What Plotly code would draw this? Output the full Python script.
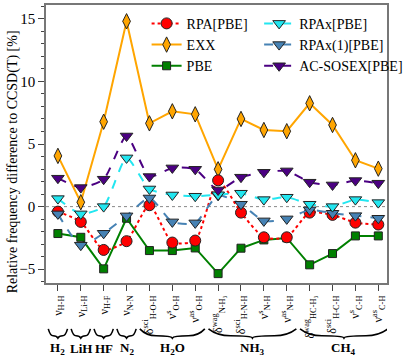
import plotly.graph_objects as go

labels = ["ν<sub>H-H</sub>", "ν<sub>Li-H</sub>", "ν<sub>H-F</sub>", "ν<sub>N-N</sub>",
          "δ<sup>sci</sup><sub>H-O-H</sub>", "ν<sup>s</sup><sub>O-H</sub>", "ν<sup>as</sup><sub>O-H</sub>",
          "δ<sup>wag</sup><sub>N-H₃</sub>", "δ<sup>sci</sup><sub>H-N-H</sub>", "ν<sup>s</sup><sub>N-H</sub>",
          "ν<sup>as</sup><sub>N-H</sub>", "δ<sup>wag</sup><sub>HC-H₃</sub>", "δ<sup>sci</sup><sub>H-C-H</sub>",
          "ν<sup>s</sup><sub>C-H</sub>", "ν<sup>as</sup><sub>C-H</sub>"]
pos = list(range(len(labels)))

rpa = [-0.4, -1.22, -3.46, -2.76, 0.11, -2.87, -2.71, 2.1, -0.48, -2.45, -2.45, -0.48, -0.66, -1.28, -1.43]
exx = [4.05, 0.35, 6.78, 14.8, 6.65, 7.61, 7.37, 2.98, 7.0, 6.12, 6.02, 8.25, 6.52, 3.7, 3.03]
pbe = [-2.15, -2.45, -4.97, -0.93, -3.51, -3.51, -3.3, -5.35, -3.32, -2.66, -2.5, -4.65, -3.75, -2.34, -2.34]
rpax = [0.64, -0.58, 0.0, 3.89, 1.41, 0.93, 0.83, 0.95, 1.07, 0.56, 0.75, 0.19, 0.0, 0.56, 0.32]
rpax1 = [-0.58, -3.08, -2.13, -0.74, 0.69, -1.22, -1.3, 0.9, 0.19, -1.14, -0.98, -0.26, -0.53, -0.72, -0.93]
sosex = [2.27, 1.52, 2.19, 5.64, 2.4, 3.09, 2.98, 1.33, 2.35, 2.74, 2.85, 1.95, 1.73, 2.08, 1.87]

groups = ["H<sub>2</sub>", "LiH", "HF", "N<sub>2</sub>", "H<sub>2</sub>O", "NH<sub>3</sub>", "CH<sub>4</sub>"]
group_span = [(0, 0), (1, 1), (2, 2), (3, 3), (4, 6), (7, 10), (11, 14)]

SERIF = "Liberation Serif"
OUT = "#222222"

fig = go.Figure()
fig.add_hline(y=0, line=dict(color="#888888", width=1, dash="dot"), layer="below")


def add(y, name, color, dash, symbol, size, shape, legend, rank):
    fig.add_trace(go.Scatter(
        x=pos, y=y, name=name, mode="lines+markers", legend=legend, legendrank=rank,
        line=dict(color=color, width=2, dash=dash, shape=shape, smoothing=0.6),
        marker=dict(symbol=symbol, size=size, color=color, line=dict(color=OUT, width=1)),
    ))


add(pbe, "PBE", "#008000", "solid", "square", 8, "linear", "legend", 3)
add(exx, "EXX", "#ffa500", "solid", "diamond-tall", 11, "linear", "legend", 2)
add(rpa, "RPA[PBE]", "#ff0000", "dot", "circle", 11, "spline", "legend", 1)
add(rpax1, "RPAx(1)[PBE]", "#4682b4", "dash", "triangle-down", 11, "spline", "legend2", 5)
add(rpax, "RPAx[PBE]", "#22e6f0", "dash", "triangle-down", 11, "spline", "legend2", 4)
add(sosex, "AC-SOSEX[PBE]", "#4b0082", "dash", "triangle-down", 11, "spline", "legend2", 6)

# curly braces + molecule names under the tick labels
yt, yb = -0.165, -0.19
for name, (a, b) in zip(groups, group_span):
    x0, x1 = a - 0.42, b + 0.42
    xc = (x0 + x1) / 2
    path = (f"M {x0},{yt} Q {x0 + (xc - x0) * 0.2},{yb} {xc - (xc - x0) * 0.5},{yb} "
            f"Q {xc - 0.05},{yb} {xc},{yb - 0.008} "
            f"Q {xc + 0.05},{yb} {xc + (x1 - xc) * 0.5},{yb} "
            f"Q {x1 - (x1 - xc) * 0.2},{yb} {x1},{yt}")
    fig.add_shape(type="path", path=path, xref="x", yref="paper",
                  line=dict(color="black", width=1.6))
    fig.add_annotation(x=(a + b) / 2, y=-0.237, xref="x", yref="paper", text=f"<b>{name}</b>",
                       showarrow=False, xanchor="center", yanchor="middle",
                       font=dict(family=SERIF, size=13, color="black"))

fig.add_annotation(x=-0.096, y=0.435, xref="paper", yref="paper", textangle=-90,
                   xanchor="center", yanchor="middle",
                   text="Relative frequency difference to CCSD(T) [%]", showarrow=False,
                   font=dict(family=SERIF, size=14, color="black"))

fig.update_xaxes(range=[-0.52, 14.38], tickmode="array", tickvals=pos, ticktext=labels,
                 tickangle=-90, ticks="outside", ticklen=6, tickcolor="#444", automargin=False,
                 showline=True, mirror=True, linecolor="#777", linewidth=1.5,
                 showgrid=False, zeroline=False, tickfont=dict(family=SERIF, size=12, color="black"))
fig.update_yaxes(range=[-6.1, 16.1], dtick=5, ticks="outside", ticklen=6, tickcolor="#444",
                 minor=dict(dtick=1, ticks="outside", ticklen=3, tickcolor="#444"), automargin=False,
                 showline=True, mirror=True, linecolor="#777", linewidth=1.5,
                 showgrid=False, zeroline=False, tickfont=dict(family=SERIF, size=15, color="black"))

leg = dict(font=dict(family=SERIF, size=14, color="black"), bgcolor="rgba(0,0,0,0)",
           yanchor="top", y=0.99, xanchor="left")
fig.update_layout(
    width=413, height=360, margin=dict(l=46, r=9, t=5, b=77),
    plot_bgcolor="white", paper_bgcolor="white",
    legend=dict(leg, x=0.295),
    legend2=dict(leg, x=0.625),
)

# the page's default body margin would shift the figure by 8px
fig.write_html("out.html", config={"displayModeBar": False},
               post_script="document.body.style.margin='0';")
